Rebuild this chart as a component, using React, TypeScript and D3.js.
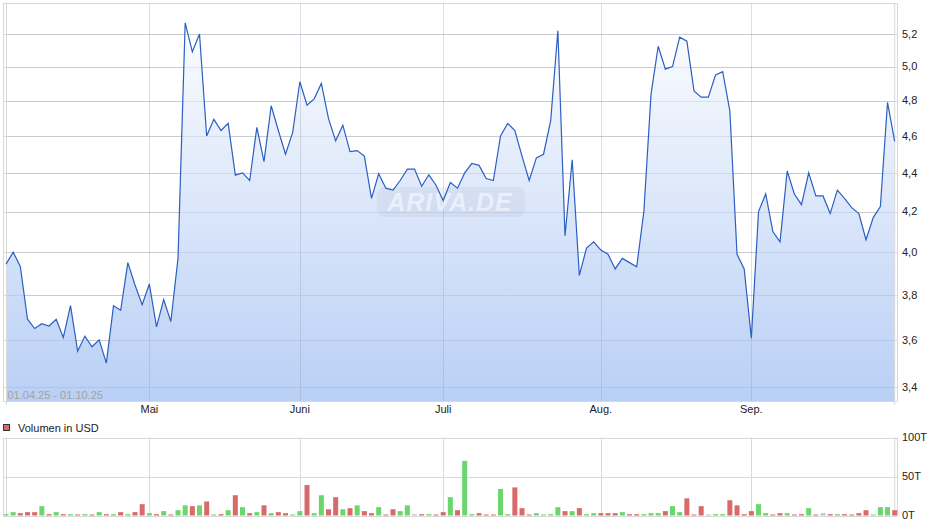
import React from "react";
import * as d3 from "d3";

const prices: number[] = [
  3.943, 4.0, 3.932, 3.69, 3.649, 3.67, 3.66, 3.69, 3.61, 3.751,
  3.551, 3.616, 3.57, 3.6, 3.5, 3.75, 3.73, 3.95, 3.845, 3.755,
  3.85, 3.656, 3.778, 3.68, 3.971, 5.27, 5.09, 5.2, 4.6, 4.693,
  4.63, 4.67, 4.388, 4.4, 4.36, 4.648, 4.46, 4.77, 4.63, 4.5,
  4.62, 4.91, 4.773, 4.81, 4.9, 4.697, 4.573, 4.66, 4.514, 4.52,
  4.49, 4.267, 4.396, 4.32, 4.31, 4.36, 4.42, 4.42, 4.33, 4.39,
  4.335, 4.257, 4.35, 4.32, 4.4, 4.45, 4.44, 4.37, 4.36, 4.6,
  4.67, 4.63, 4.49, 4.36, 4.48, 4.5, 4.686, 5.22, 4.08, 4.47,
  3.89, 4.02, 4.05, 4.01, 3.99, 3.92, 3.97, 3.95, 3.93, 4.2,
  4.836, 5.124, 4.985, 5.0, 5.18, 5.155, 4.856, 4.82, 4.82, 4.95,
  4.97, 4.74, 3.99, 3.92, 3.607, 4.2, 4.29, 4.1, 4.05, 4.41,
  4.29, 4.235, 4.4, 4.28, 4.28, 4.19, 4.31, 4.267, 4.22, 4.19,
  4.06, 4.17, 4.225, 4.79, 4.57,
];

// volume in thousand USD (T)
const volumes: number[] = [
  1.7, 4.3, 3, 4.3, 4.3, 12, 1.7, 4.3, 1.7, 1.7,
  1, 1.7, 1, 4.3, 1.7, 1.7, 4.3, 1.7, 4.3, 14.5,
  3, 1.7, 5.6, 0.5, 6.8, 13, 12, 13, 18, 0.5,
  1.7, 6.8, 26, 10.7, 3, 4.3, 13, 3, 4.3, 3,
  0.5, 5.6, 39, 3, 26, 8, 23.5, 8, 9.4, 13,
  5.6, 3, 10.7, 0.5, 8, 5.6, 13, 1.7, 1.7, 1.7,
  0.5, 4.3, 23.5, 6.8, 70, 1.7, 3, 0.5, 0.5, 34,
  1.7, 36, 9.4, 0.5, 3, 0.5, 1.7, 10.7, 5.6, 5.6,
  9.4, 1.7, 3, 3, 3, 3, 4.3, 1.7, 1.7, 1.7,
  3, 3, 5.6, 12, 4.3, 22, 0.5, 12, 0.5, 1.7,
  1.7, 19.6, 13, 1.7, 5.6, 14.5, 3, 0.5, 3, 3,
  0.5, 1.7, 9.4, 0.5, 3, 1.7, 1.7, 1.7, 0.5, 3,
  6.8, 0.5, 10.7, 10.7, 6.8,
];

const monthLabels: string[] = ["Mai", "Juni", "Juli", "Aug.", "Sep."];
const monthIndex: number[] = [20, 41, 61, 83, 104];

const priceTicks: number[] = [3.4, 3.6, 3.8, 4.0, 4.2, 4.4, 4.6, 4.8, 5.0, 5.2];
const volumeTicks: number[] = [0, 50, 100];
const volumeTickLabels: string[] = ["0T", "50T", "100T"];

const rangeLabel = "01.04.25 - 01.10.25";
const legendLabel = "Volumen in USD";

const FONT = "'Liberation Sans', Arial, sans-serif";
const GRID = "#d9d9d9";

export default function App() {
  const W = 940;
  const H = 526;
  const outerL = 3;
  const outerR = 897.5;
  const plotL = 6;
  const plotR = 894.7;
  const top = 3.5;
  const bottom = 401.5;
  const vTop = 437.5;
  const vBase = 515.5;

  const x = d3.scaleLinear().domain([0, prices.length - 1]).range([plotL, plotR]);
  const y = d3.scaleLog().domain([3.4, 5.2]).range([387.3, 34]);
  const yv = d3.scaleLinear().domain([0, 100]).range([vBase, vTop]);

  const line = d3
    .line<number>()
    .x((_, i) => x(i))
    .y((d) => y(d));
  const area = d3
    .area<number>()
    .x((_, i) => x(i))
    .y0(bottom)
    .y1((d) => y(d));

  const fmt = (v: number) => v.toFixed(1).replace(".", ",");
  const barColor = (i: number) => {
    if (i === 0) return "#6bd66b";
    if (prices[i] > prices[i - 1]) return "#6bd66b";
    if (prices[i] < prices[i - 1]) return "#d96a6a";
    return "#c4c4c4";
  };

  return (
    <svg width={W} height={H} style={{ display: "block", position: "absolute", left: 0, top: 0 }}>
      <defs>
        <linearGradient id="fillGrad" gradientUnits="userSpaceOnUse" x1="0" y1={top} x2="0" y2={bottom}>
          <stop offset="0%" stopColor="#ffffff" />
          <stop offset="100%" stopColor="#b9cff5" />
        </linearGradient>
      </defs>
      <rect x={0} y={0} width={W} height={H} fill="#ffffff" />

      {/* main chart grid (under) */}
      {priceTicks.map((t) => (
        <line key={"h" + t} x1={outerL} x2={outerR} y1={Math.round(y(t)) + 0.5} y2={Math.round(y(t)) + 0.5} stroke={GRID} />
      ))}
      <line x1={outerL} x2={outerR} y1={top} y2={top} stroke={GRID} />

      {/* area + line */}
      <path d={area(prices) || ""} fill="url(#fillGrad)" />

      {/* grid overlay on fill */}
      {priceTicks.map((t) => (
        <line key={"ho" + t} x1={plotL} x2={plotR} y1={Math.round(y(t)) + 0.5} y2={Math.round(y(t)) + 0.5} stroke="rgba(120,140,175,0.18)" />
      ))}
      {monthIndex.map((mi, k) => (
        <line key={"v" + k} x1={Math.round(x(mi)) + 0.5} x2={Math.round(x(mi)) + 0.5} y1={top} y2={bottom} stroke="rgba(150,160,180,0.35)" />
      ))}
      <line x1={outerL + 0.5} x2={outerL + 0.5} y1={top} y2={bottom} stroke={GRID} />
      <line x1={plotL + 0.5} x2={plotL + 0.5} y1={top} y2={bottom + 3} stroke={GRID} />
      <line x1={plotR} x2={plotR} y1={top} y2={bottom + 3} stroke={GRID} />
      <line x1={outerR} x2={outerR} y1={top} y2={bottom} stroke={GRID} />
      <line x1={outerL} x2={outerR} y1={bottom} y2={bottom} stroke={GRID} />

      {/* watermark */}
      <g>
        <rect x={377} y={187} width={148} height={30} rx={8} fill="rgba(170,185,210,0.18)" />
        <text x={450} y={211} textAnchor="middle" fontFamily={FONT} fontSize={25} fontStyle="italic" fontWeight="bold" letterSpacing={1} fill="rgba(255,255,255,0.55)">
          ARIVA.DE
        </text>
      </g>

      <path d={line(prices) || ""} fill="none" stroke="#2b5fc2" strokeWidth={1.2} strokeLinejoin="miter" />

      {/* range label */}
      <text x={7.5} y={399} fontFamily={FONT} fontSize={11} fill="#a3a3a3">
        {rangeLabel}
      </text>

      {/* y-axis labels */}
      {priceTicks.map((t) => (
        <text key={"yl" + t} x={902} y={y(t)} dy="0.35em" fontFamily={FONT} fontSize={11} fill="#222">
          {fmt(t)}
        </text>
      ))}

      {/* x-axis labels */}
      {monthIndex.map((mi, k) => (
        <text key={"xl" + k} x={x(mi)} y={413} textAnchor="middle" fontFamily={FONT} fontSize={11} fill="#222">
          {monthLabels[k]}
        </text>
      ))}

      {/* legend */}
      <rect x={3.5} y={424.5} width={6} height={6} fill="#d96a6a" stroke="#333" strokeWidth={1} />
      <text x={18} y={432} fontFamily={FONT} fontSize={11} fill="#222">
        {legendLabel}
      </text>

      {/* volume panel */}
      {volumeTicks.map((t) => (
        <line key={"vh" + t} x1={outerL} x2={outerR} y1={Math.round(yv(t)) + 0.5} y2={Math.round(yv(t)) + 0.5} stroke={GRID} />
      ))}
      {monthIndex.map((mi, k) => (
        <line key={"vv" + k} x1={Math.round(x(mi)) + 0.5} x2={Math.round(x(mi)) + 0.5} y1={vTop} y2={vBase} stroke={GRID} />
      ))}
      <line x1={outerL + 0.5} x2={outerL + 0.5} y1={vTop} y2={vBase} stroke={GRID} />
      <line x1={plotL + 0.5} x2={plotL + 0.5} y1={vTop} y2={vBase} stroke={GRID} />
      <line x1={plotR} x2={plotR} y1={vTop} y2={vBase} stroke={GRID} />
      <line x1={outerR} x2={outerR} y1={vTop} y2={vBase} stroke={GRID} />

      {volumes.map((v, i) => {
        const yt = Math.min(yv(v), vBase - 1);
        return <rect key={"b" + i} x={x(i) - 2.5} y={yt} width={5} height={vBase - yt} fill={barColor(i)} />;
      })}

      {volumeTicks.map((t, k) => (
        <text key={"vl" + t} x={902} y={yv(t)} dy="0.35em" fontFamily={FONT} fontSize={11} fill="#222">
          {volumeTickLabels[k]}
        </text>
      ))}
    </svg>
  );
}
